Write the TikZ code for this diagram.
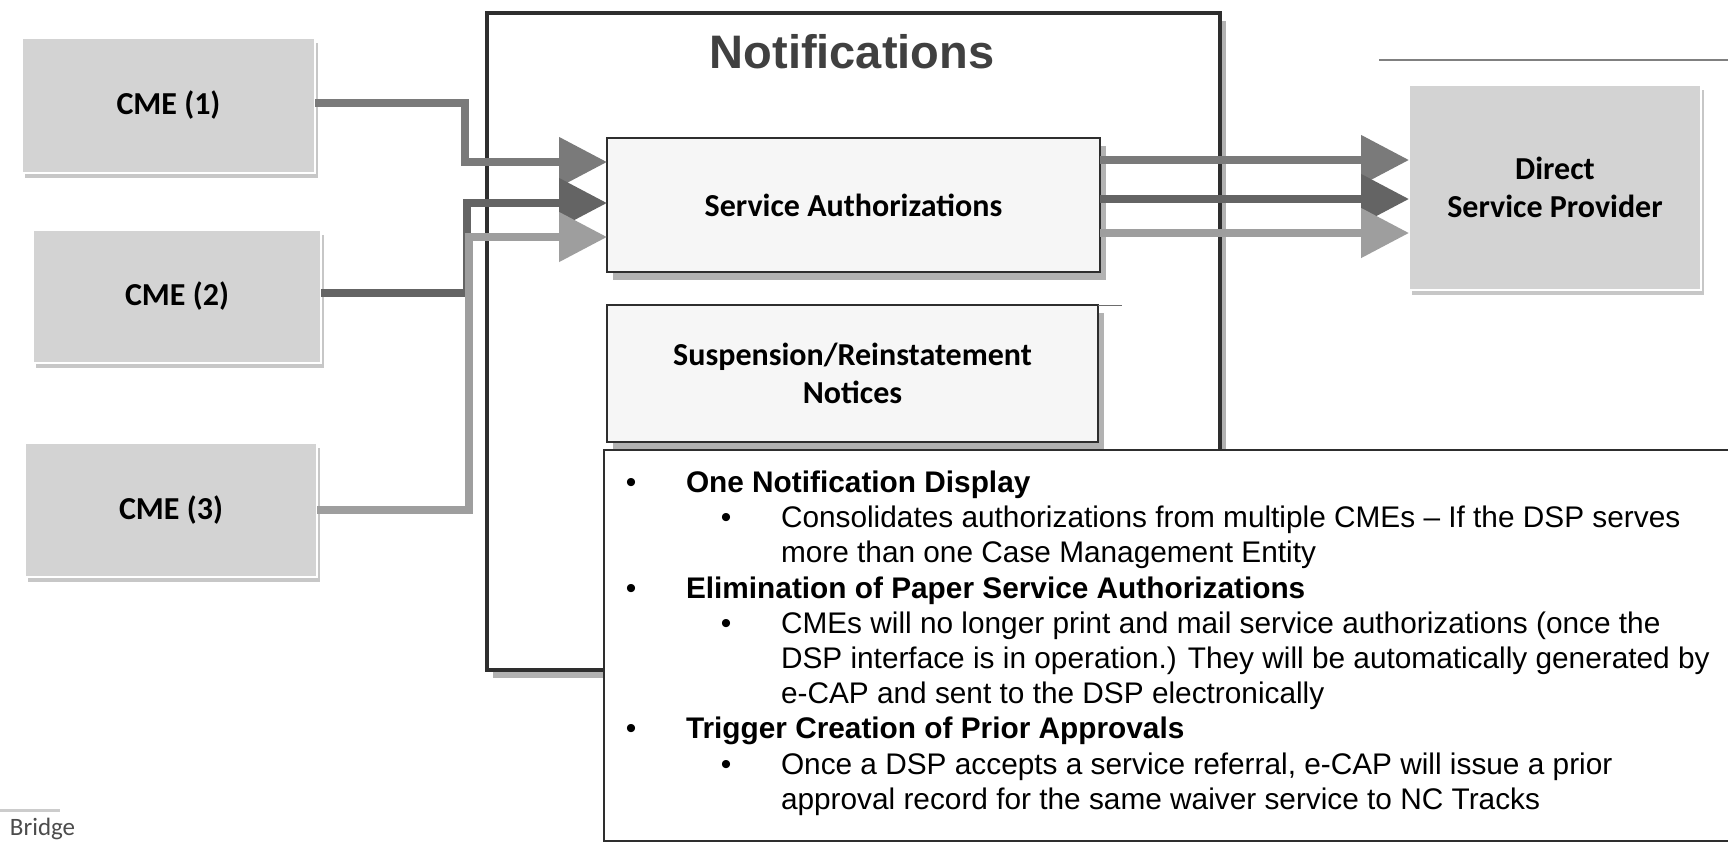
\documentclass[tikz,border=0pt]{standalone}
\usepackage{fontspec}
\setmainfont{Liberation Sans}
\newfontfamily\calfont{Carlito}
\usetikzlibrary{arrows.meta,shadows}
\definecolor{boxgray}{HTML}{D3D3D3}
\definecolor{panelfill}{HTML}{F6F6F6}
\definecolor{framecol}{HTML}{2E2E2E}
\definecolor{lineA}{HTML}{7A7A7A}
\definecolor{lineB}{HTML}{646464}
\definecolor{lineC}{HTML}{9E9E9E}
\definecolor{titlegray}{HTML}{404040}
\begin{document}
\begin{tikzpicture}[x=0.5pt,y=-0.5pt,
  every node/.style={inner sep=0pt, outer sep=0pt},
  boxtext/.style={font=\calfont\bfseries\fontsize{16}{19}\selectfont, text=black, align=center},
  cmebox/.style={boxtext, draw=white, line width=1pt, fill=boxgray,
    drop shadow={shadow xshift=1.5pt, shadow yshift=-2.5pt, opacity=0.22, fill=black}},
  panel/.style={boxtext, draw=framecol, line width=0.8pt, fill=panelfill,
    drop shadow={shadow xshift=3pt, shadow yshift=-4pt, opacity=0.3, fill=black}},
  conn/.style={line width=4pt, line join=miter, -{Triangle[length=24pt,width=24pt]}},
  lone/.style={anchor=base west, font=\bfseries\fontsize{14.9}{17.6}\selectfont},
  ltwo/.style={anchor=base west, font=\fontsize{14.9}{17.6}\selectfont},
  bul/.style={anchor=base, font=\fontsize{15}{17.6}\selectfont}]
\useasboundingbox (0,0) rectangle (1728,843);
\fill[white] (0,0) rectangle (1728,843);

% outer Notifications frame
\node[draw=framecol, line width=2pt, fill=white, minimum width=366.5pt, minimum height=328.5pt,
  drop shadow={shadow xshift=3pt, shadow yshift=-4pt, opacity=0.3, fill=black}]
  (notif) at (853.5,341.5) {};
\node[anchor=base, font=\bfseries\fontsize{23.5}{28}\selectfont, text=titlegray] (title) at (852,68) {Notifications};

% CME boxes
\node[cmebox, minimum width=146.5pt, minimum height=67.5pt] (cme1) at (168.5,105.5) {CME (1)};
\node[cmebox, minimum width=144pt, minimum height=66.5pt] (cme2) at (177,296.5) {CME (2)};
\node[cmebox, minimum width=146pt, minimum height=67pt] (cme3) at (171,510) {CME (3)};
\node[cmebox, minimum width=146pt, minimum height=102.5pt] (dsp) at (1555,187.5) {Direct\\Service Provider};

% inner panels
\node[panel, minimum width=246.5pt, minimum height=67pt] (sa) at (853.5,205) {Service Authorizations};
\node[panel, minimum width=245.5pt, minimum height=68.5pt] (sus) at (852.5,373.5) {Suspension/Reinstatement\\Notices};
\draw[framecol!70, line width=0.4pt] (sus.north east) -- ++(24,0);

% top right rule
\draw[gray, line width=0.6pt] (1379,60) coordinate (rs) -- (1728,60) coordinate (re);

% connectors left
\draw[conn, color=lineA] (cme1.east |- 0,103) -- (465,103) -- (465,162) -- (sa.west |- 0,162);
\draw[conn, color=lineB] (cme2.east |- 0,293) -- (467,293) -- (467,203) -- (sa.west |- 0,203);
\draw[conn, color=lineC] (cme3.east |- 0,510) -- (469,510) -- (469,237) -- (sa.west |- 0,237);

% connectors right
\draw[conn, color=lineA] (sa.east |- 0,160) -- (dsp.west |- 0,160);
\draw[conn, color=lineB] (sa.east |- 0,199) -- (dsp.west |- 0,199);
\draw[conn, color=lineC] (sa.east |- 0,233) -- (dsp.west |- 0,233);

% bullet box
\node[draw=framecol, line width=0.8pt, fill=white, minimum width=568pt, minimum height=195.5pt] (notes) at (1172,645.5) {};
\node[bul] (b1) at (631,492.5) {•};
\node[lone] (t1) at (686,492.5) {One Notification Display};
\node[bul] (b11) at (726,527.7) {•};
\node[ltwo] (t11) at (781,527.7) {Consolidates authorizations from multiple CMEs – If the DSP serves};
\node[ltwo] (t12) at (781,562.9) {more than one Case Management Entity};
\node[bul] (b2) at (631,598.1) {•};
\node[lone] (t2) at (686,598.1) {Elimination of Paper Service Authorizations};
\node[bul] (b21) at (726,633.3) {•};
\node[ltwo] (t21) at (781,633.3) {CMEs will no longer print and mail service authorizations (once the};
\node[ltwo] (t22) at (781,668.5) {DSP interface is in operation.) They will be automatically generated by};
\node[ltwo] (t23) at (781,703.7) {e-CAP and sent to the DSP electronically};
\node[bul] (b3) at (631,738.9) {•};
\node[lone] (t3) at (686,738.9) {Trigger Creation of Prior Approvals};
\node[bul] (b31) at (726,774.1) {•};
\node[ltwo] (t31) at (781,774.1) {Once a DSP accepts a service referral, e-CAP will issue a prior};
\node[ltwo] (t32) at (781,809.3) {approval record for the same waiver service to NC Tracks};

% bottom-left logo remnant
\draw[gray!40, line width=1.5pt] (0,810) coordinate (ls) -- (60,810) coordinate (le);
\node[anchor=base west, font=\calfont\fontsize{12.5}{15}\selectfont, text=black!70] (logo) at (10,835) {Bridge};
\end{tikzpicture}
\end{document}
